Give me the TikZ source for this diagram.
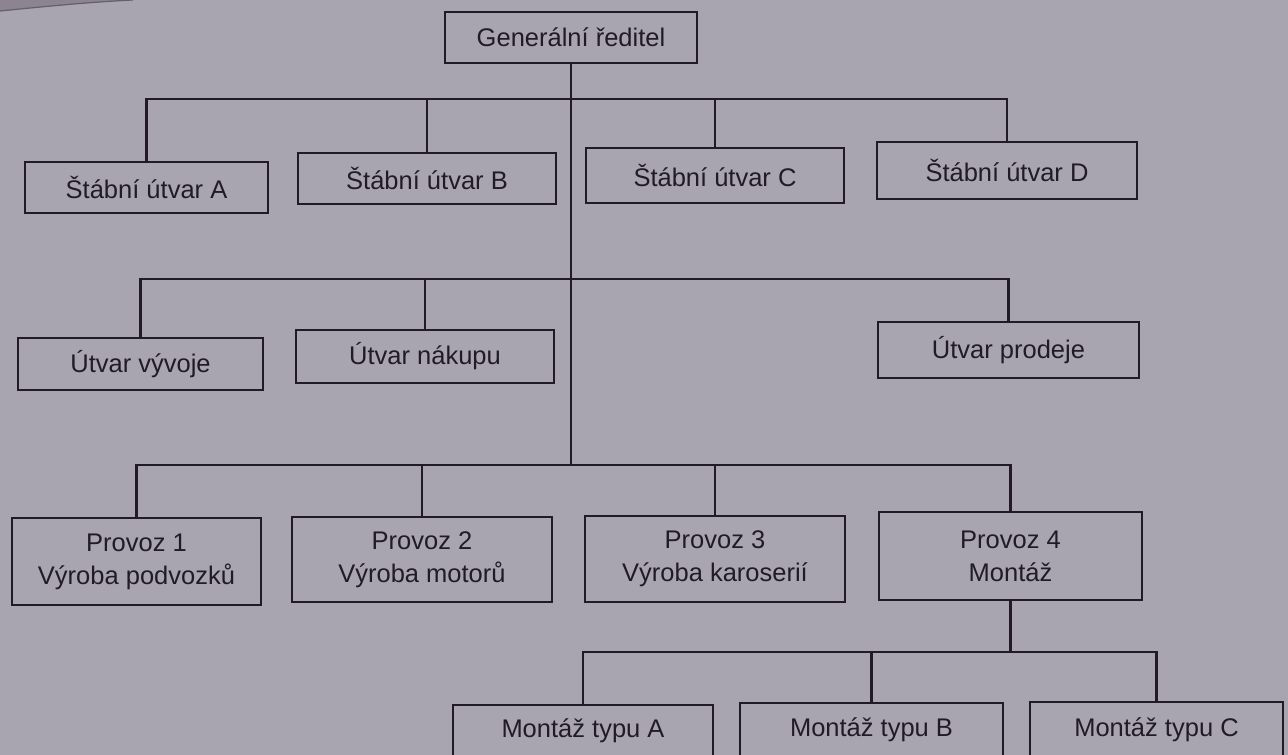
\documentclass[tikz,border=0pt]{standalone}
\usepackage{fontspec}
\setmainfont{Liberation Sans}
\definecolor{paper}{RGB}{168,165,177}
\definecolor{paperdark}{RGB}{140,132,144}
\definecolor{ink}{RGB}{34,26,40}
\tikzset{
  unit/.style={draw=ink, line width=2.6pt, text=ink, inner sep=0pt,
    align=center, font=\fontsize{25.5}{33}\selectfont},
  link/.style={draw=ink, line width=2.6pt, line cap=rect},
}
\begin{document}
\begin{tikzpicture}[x=1pt, y=-1pt]
  % paper
  \useasboundingbox (0,0) rectangle (1288,755);
  \fill[paper] (0,0) rectangle (1288,755);
  \fill[paperdark] (0,0) -- (0,11) .. controls (40,7) and (90,2) .. (133,0) -- cycle;
  \draw[ink!70, line width=1.2pt] (0,11) .. controls (40,7) and (90,2) .. (133,0);

  % top
  \node[unit, minimum width=252pt, minimum height=51pt] (gen) at (571,37.5) {Generální ředitel};

  % staff units
  \node[unit, minimum width=243pt, minimum height=51pt] (sA) at (146.5,187.5) {Štábní útvar A};
  \node[unit, minimum width=258pt, minimum height=51pt] (sB) at (427,178.5) {Štábní útvar B};
  \node[unit, minimum width=258pt, minimum height=55pt] (sC) at (715,175.5) {Štábní útvar C};
  \node[unit, minimum width=260pt, minimum height=57pt] (sD) at (1007,170.5) {Štábní útvar D};

  % departments
  \node[unit, minimum width=245pt, minimum height=52pt] (dev) at (140.5,364) {Útvar vývoje};
  \node[unit, minimum width=258pt, minimum height=53pt] (buy) at (425,356.5) {Útvar nákupu};
  \node[unit, minimum width=261pt, minimum height=56pt] (sell) at (1008.5,350) {Útvar prodeje};

  % plants
  \node[unit, minimum width=249pt, minimum height=87pt] (p1) at (136.5,561.5) {Provoz 1\\Výroba podvozků};
  \node[unit, minimum width=260pt, minimum height=85pt] (p2) at (422,559.5) {Provoz 2\\Výroba motorů};
  \node[unit, minimum width=260pt, minimum height=86pt] (p3) at (715,559) {Provoz 3\\Výroba karoserií};
  \node[unit, minimum width=263pt, minimum height=88pt] (p4) at (1010.5,556) {Provoz 4\\Montáž};

  % assembly lines
  \node[unit, minimum width=260pt, minimum height=52pt] (mA) at (583,731) {Montáž typu A};
  \node[unit, minimum width=263pt, minimum height=54pt] (mB) at (871.5,730) {Montáž typu B};
  \node[unit, minimum width=253pt, minimum height=56pt] (mC) at (1156.5,730) {Montáž typu C};

  % junction levels
  \coordinate (j1) at (571,99);
  \coordinate (j2) at (571,279);
  \coordinate (j3) at (571,465);
  \coordinate (j4) at (1010.5,652);

  % trunk
  \draw[link] (gen.south) -- (j3);

  % level 1
  \draw[link] (sA.north) -- (sA.north |- j1) -- (sD.north |- j1) -- (sD.north);
  \draw[link] (sB.north) -- (sB.north |- j1);
  \draw[link] (sC.north) -- (sC.north |- j1);

  % level 2
  \draw[link] (dev.north) -- (dev.north |- j2) -- (sell.north |- j2) -- (sell.north);
  \draw[link] (buy.north) -- (buy.north |- j2);

  % level 3
  \draw[link] (p1.north) -- (p1.north |- j3) -- (p4.north |- j3) -- (p4.north);
  \draw[link] (p2.north) -- (p2.north |- j3);
  \draw[link] (p3.north) -- (p3.north |- j3);

  % level 4
  \draw[link] (p4.south) -- (j4);
  \draw[link] (mA.north) -- (mA.north |- j4) -- (mC.north |- j4) -- (mC.north);
  \draw[link] (mB.north) -- (mB.north |- j4);
\end{tikzpicture}
\end{document}
